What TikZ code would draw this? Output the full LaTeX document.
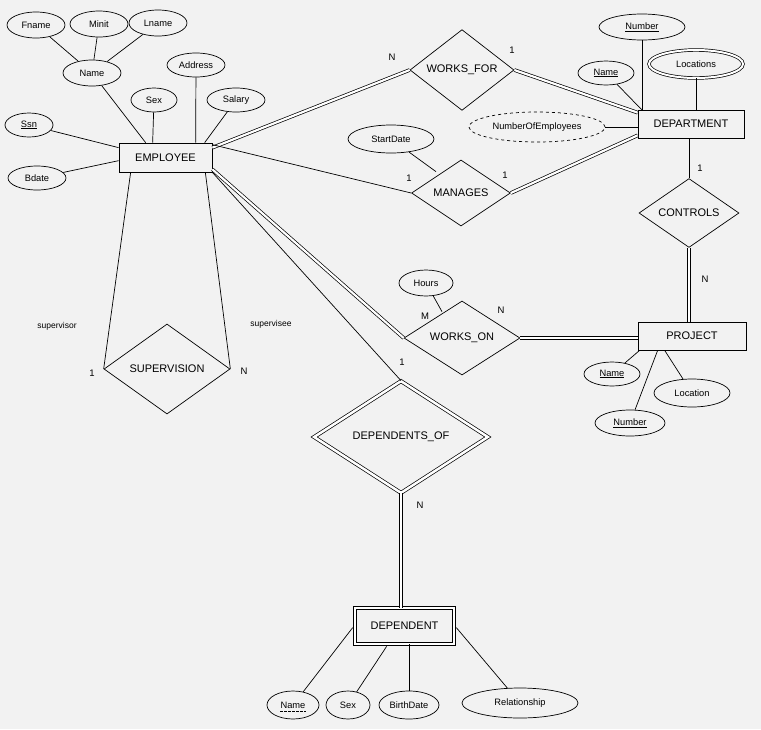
\documentclass[tikz,border=0pt]{standalone}
\usepackage{fontspec}
\setmainfont{Liberation Sans}
\usetikzlibrary{shapes.geometric,calc}
\begin{document}
\begin{tikzpicture}[x=1pt,y=-1pt,
  attr/.style={draw,ellipse,inner sep=0pt,font=\fontsize{9.3}{10}\selectfont},
  ent/.style={draw,rectangle,inner sep=0pt,font=\fontsize{11}{12}\selectfont},
  rel/.style={draw,diamond,inner sep=0pt,font=\fontsize{11}{12}\selectfont},
  dbl/.style={double,double distance=2.2pt},
  lbl/.style={font=\fontsize{9.5}{10}\selectfont,inner sep=0pt},
  line width=0.7pt]
\fill[white!95!black] (0,0) rectangle (761,729);
\useasboundingbox (0,0) rectangle (761,729);
% EMPLOYEE
\node[ent,minimum width=93,minimum height=29] (emp) at (165.5,157.5) {EMPLOYEE};
\node[attr,minimum width=58,minimum height=26] (fname) at (36,25) {Fname};
\node[attr,minimum width=58,minimum height=26] (minit) at (99,24) {Minit};
\node[attr,minimum width=58,minimum height=26] (lname) at (158,23) {Lname};
\node[attr,minimum width=58,minimum height=26] (ename) at (92,73) {Name};
\node[attr,minimum width=58,minimum height=24] (addr) at (196,65) {Address};
\node[attr,minimum width=46,minimum height=24] (esex) at (154,100) {Sex};
\node[attr,minimum width=58,minimum height=24] (sal) at (236,100) {Salary};
\node[attr,minimum width=48,minimum height=24] (ssn) at (29,125) {\underline{Ssn}};
\node[attr,minimum width=58,minimum height=24] (bdate) at (37,178) {Bdate};
\draw (fname)--(ename) (minit)--(ename) (lname)--(ename);
\draw (ename)--($(emp.north west)+(27,0)$);
\draw (esex)--($(emp.north west)+(34,0)$);
\draw (addr)--($(emp.north west)+(77,0)$);
\draw (sal)--($(emp.north west)+(86,0)$);
\draw (ssn)--($(emp.north west)+(0,5)$);
\draw (bdate)--($(emp.north west)+(0,18)$);
% DEPARTMENT
\node[ent,minimum width=106,minimum height=28] (dept) at (691,124) {DEPARTMENT};
\node[attr,minimum width=86,minimum height=26] (dnum) at (642,27) {\underline{Number}};
\node[attr,minimum width=56,minimum height=24] (dname) at (606,73) {\underline{Name}};
\node[attr,double,double distance=2pt,minimum width=94,minimum height=28] (loc) at (696,64) {Locations};
\node[attr,dashed,minimum width=136,minimum height=30] (noe) at (537,127) {NumberOfEmployees};
\draw (dnum)--(dnum|-dept.north);
\draw (dname)--($(dept.north west)+(4,0)$);
\draw (loc)--(loc|-dept.north);
\draw (noe)--(noe-|dept.west);
% WORKS_FOR
\node[rel,minimum width=104,minimum height=72] (wf) at (462,70) {WORKS\_FOR};
\draw[dbl] ($(emp.north east)+(0,5)$)--(wf.west);
\draw[dbl] (wf.east)--($(dept.north west)+(0,3)$);
\node[lbl] at (392,57) {N};
\node[lbl] at (512,50) {1};
% MANAGES
\node[rel,minimum width=99,minimum height=66] (man) at (461,193) {MANAGES};
\node[attr,minimum width=86,minimum height=28] (sd) at (391,139) {StartDate};
\draw (sd)--($(man.north)+(-25,12)$);
\draw ($(emp.north east)+(0,2)$) -- (man.west);
\draw[dbl] (man.east)--($(dept.south west)+(0,-3)$);
\node[lbl] at (409,178) {1};
\node[lbl] at (505,175) {1};
% CONTROLS
\node[rel,minimum width=100,minimum height=66] (ctl) at (689,213) {CONTROLS};
\draw (dept.south-|ctl.north)--(ctl.north);
\node[lbl] at (700,168) {1};
% PROJECT
\node[ent,minimum width=108,minimum height=28] (proj) at (692,336) {PROJECT};
\draw[dbl] (ctl.south)--(ctl.south|-proj.north);
\node[lbl] at (705,279) {N};
\node[attr,minimum width=56,minimum height=24] (pname) at (612,374) {\underline{Name}};
\node[attr,minimum width=76,minimum height=28] (ploc) at (692,393) {Location};
\node[attr,minimum width=70,minimum height=26] (pnum) at (630,423) {\underline{Number}};
\draw (pname)--($(proj.south west)+(2,0)$);
\draw (ploc)--($(proj.south west)+(27,0)$);
\draw (pnum)--($(proj.south west)+(20,0)$);
% WORKS_ON
\node[rel,minimum width=116,minimum height=68] (wo) at (462,338) {WORKS\_ON};
\node[attr,minimum width=54,minimum height=26] (hrs) at (426,283) {Hours};
\draw (hrs)--($(wo.north)+(-20,11)$);
\draw[dbl] ($(emp.south east)+(0,-3)$)--(wo.west);
\draw[dbl] (wo.east)--(wo.east-|proj.west);
\node[lbl] at (425,316) {M};
\node[lbl] at (501,310) {N};
% SUPERVISION
\node[rel,minimum width=126,minimum height=90] (sup) at (167,369) {SUPERVISION};
\draw ($(emp.south west)+(12,0)$)--(sup.west);
\draw ($(emp.south east)+(-7,0)$)--(sup.east);
\node[lbl,font=\fontsize{8.5}{10}\selectfont] at (57,326) {supervisor};
\node[lbl,font=\fontsize{8.5}{10}\selectfont] at (271,324) {supervisee};
\node[lbl] at (92,373) {1};
\node[lbl] at (244,371) {N};
% DEPENDENTS_OF
\node[rel,double,double distance=2.5pt,minimum width=174,minimum height=112] (dof) at (401,437) {DEPENDENTS\_OF};
\draw (emp.south east)--(dof.north);
\node[lbl] at (402,362) {1};
% DEPENDENT
\node[ent,double,double distance=2.5pt,minimum width=99,minimum height=36] (dep) at (404.5,626) {DEPENDENT};
\draw[dbl] (dof.south)--(dof.south|-dep.north);
\node[lbl] at (420,505) {N};
\node[attr,minimum width=52,minimum height=28] (dpn) at (293,705) {Name};
\draw[dash pattern=on 2.5pt off 1.5pt,line width=0.6pt] ($(dpn.center)+(-13,6)$)--($(dpn.center)+(13,6)$);
\node[attr,minimum width=44,minimum height=28] (dsx) at (348,705) {Sex};
\node[attr,minimum width=60,minimum height=28] (dbd) at (409,705) {BirthDate};
\node[attr,minimum width=116,minimum height=30] (drel) at (520,703) {Relationship};
\draw (dpn)--($(dep.north west)+(-2,20)$);
\draw (dsx)--($(dep.south west)+(32,2)$);
\draw (dbd)--(dbd|-dep.south);
\draw (drel)--($(dep.north east)+(2,20)$);
\end{tikzpicture}
\end{document}
